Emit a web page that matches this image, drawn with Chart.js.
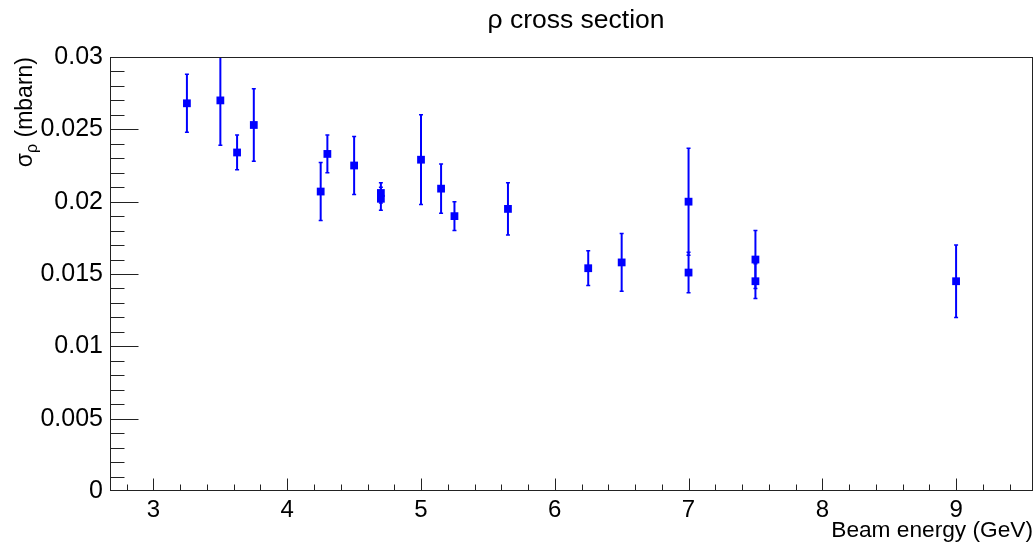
<!DOCTYPE html>
<html lang="en">

<head>
  <meta charset="UTF-8">
  <title>rho cross section</title>
  <script src="https://cdn.jsdelivr.net/npm/chart.js"></script>
  <style>
    body {
      margin: 0;
      background: #fff;
    }

    #chartContainer {
      width: 1035px;
      height: 544px;
    }
  </style>
</head>

<body>

  <div id="chartContainer">
    <canvas id="rhoXsec"></canvas>
  </div>

  <script>
    // beam energy (GeV), cross section (mbarn) and its error
    const energy = [3.25, 3.5, 3.625, 3.75, 4.25, 4.3, 4.5, 4.7, 4.7, 5.0, 5.15, 5.25, 5.65, 6.25, 6.5, 7.0, 7.0, 7.5, 7.5, 9.0];
    const sigma = [0.0268, 0.0270, 0.0234, 0.0253, 0.0207, 0.0233, 0.0225, 0.0206, 0.0202, 0.0229, 0.0209, 0.0190, 0.0195, 0.0154, 0.0158, 0.0200, 0.0151, 0.0160, 0.0145, 0.0145];
    const sigmaErr = [0.0020, 0.0031, 0.0012, 0.0025, 0.0020, 0.0013, 0.0020, 0.0007, 0.0008, 0.0031, 0.0017, 0.0010, 0.0018, 0.0012, 0.0020, 0.0037, 0.0014, 0.0020, 0.0012, 0.0025];

    const xTicks = [3, 4, 5, 6, 7, 8, 9];
    const xTickLabels = ['3', '4', '5', '6', '7', '8', '9'];
    const yTicks = [0, 0.005, 0.01, 0.015, 0.02, 0.025, 0.03];
    const yTickLabels = ['0', '0.005', '0.01', '0.015', '0.02', '0.025', '0.03'];

    const blue = '#0000ff';
    const font = "'Liberation Sans', Arial, Helvetica, sans-serif";

    // ROOT-like frame: inner ticks, error bars, titles
    const rootFrame = {
      id: 'rootFrame',
      beforeDatasetsDraw(chart) {
        const { ctx, chartArea: a, scales: { x, y } } = chart;
        ctx.save();
        ctx.beginPath();
        ctx.rect(a.left, a.top, a.right - a.left, a.bottom - a.top);
        ctx.clip();
        ctx.strokeStyle = blue;
        energy.forEach((e, i) => {
          const px = x.getPixelForValue(e);
          const top = y.getPixelForValue(sigma[i] + sigmaErr[i]);
          const bot = y.getPixelForValue(sigma[i] - sigmaErr[i]);
          ctx.lineWidth = 2;
          ctx.beginPath();
          ctx.moveTo(px, top);
          ctx.lineTo(px, bot);
          ctx.stroke();
          ctx.lineWidth = 1.5;
          ctx.beginPath();
          ctx.moveTo(px - 2, top);
          ctx.lineTo(px + 2, top);
          ctx.moveTo(px - 2, bot);
          ctx.lineTo(px + 2, bot);
          ctx.stroke();
        });
        ctx.restore();
      },
      afterDraw(chart) {
        const { ctx, chartArea: a, scales: { x, y } } = chart;
        const L = Math.round(a.left) + 0.5, R = Math.round(a.right) - 0.5;
        const T = Math.round(a.top) + 0.5, B = Math.round(a.bottom) - 0.5;
        ctx.save();
        ctx.strokeStyle = '#222';
        ctx.lineWidth = 1;
        ctx.strokeRect(L, T, R - L, B - T);

        ctx.beginPath();
        // x ticks, every 0.2
        for (let i = 14; i * 0.2 < x.max; i++) {
          const px = Math.round(x.getPixelForValue(i * 0.2)) + 0.5;
          const len = i % 5 === 0 ? 12 : 6;
          ctx.moveTo(px, B);
          ctx.lineTo(px, B - len);
        }
        // y ticks, every 0.001
        for (let i = 1; i < 30; i++) {
          const py = Math.round(y.getPixelForValue(i * 0.001)) + 0.5;
          const len = i % 5 === 0 ? 28 : 14;
          ctx.moveTo(L, py);
          ctx.lineTo(L + len, py);
        }
        ctx.stroke();

        // main title
        ctx.fillStyle = '#000';
        ctx.font = '26.5px ' + font;
        ctx.textAlign = 'center';
        ctx.textBaseline = 'alphabetic';
        ctx.fillText('ρ cross section', 576, 28);

        // y title with subscript, end aligned with top of frame
        const parts = [['σ', 23, 0], ['ρ', 16, 5], [' (mbarn)', 23, 0]];
        let w = 0;
        parts.forEach(p => { ctx.font = p[1] + 'px ' + font; w += ctx.measureText(p[0]).width; });
        ctx.translate(32, a.top);
        ctx.rotate(-Math.PI / 2);
        ctx.textAlign = 'left';
        let cx = -w;
        parts.forEach(p => {
          ctx.font = p[1] + 'px ' + font;
          ctx.fillText(p[0], cx, p[2]);
          cx += ctx.measureText(p[0]).width;
        });
        ctx.restore();
      }
    };

    const ctx = document.getElementById('rhoXsec').getContext('2d');
    new Chart(ctx, {
      type: 'scatter',
      data: {
        datasets: [{
          label: 'sigma',
          data: energy.map((e, i) => ({ x: e, y: sigma[i] })),
          pointStyle: 'rect',
          pointRadius: 5.5,
          pointBorderWidth: 0,
          backgroundColor: blue,
          borderColor: blue
        }]
      },
      options: {
        responsive: true,
        maintainAspectRatio: false,
        animation: false,
        layout: { autoPadding: false, padding: { top: 57, right: 2, left: 0, bottom: 0 } },
        plugins: {
          legend: { display: false },
          tooltip: { enabled: false },
          title: { display: false }
        },
        scales: {
          x: {
            type: 'linear',
            min: 2.675,
            max: 9.575,
            afterBuildTicks: s => { s.ticks = xTicks.map(v => ({ value: v })); },
            afterFit: s => { s.height = 53; s.paddingLeft = 0; s.paddingRight = 0; },
            grid: { display: false, drawTicks: false },
            border: { display: false },
            ticks: {
              color: '#000',
              padding: 5,
              maxRotation: 0,
              font: { family: font, size: 24 },
              callback: (v, i) => xTickLabels[i]
            },
            title: {
              display: true,
              text: 'Beam energy (GeV)',
              align: 'end',
              color: '#000',
              padding: { top: 0, bottom: 0 },
              font: { family: font, size: 22.7 }
            }
          },
          y: {
            type: 'linear',
            min: 0,
            max: 0.03,
            afterBuildTicks: s => { s.ticks = yTicks.map(v => ({ value: v })); },
            afterFit: s => { s.width = 110; s.paddingTop = 0; s.paddingBottom = 0; },
            grid: { display: false, drawTicks: false },
            border: { display: false },
            ticks: {
              color: '#000',
              padding: 7,
              font: { family: font, size: 25 },
              callback: (v, i) => yTickLabels[i]
            }
          }
        }
      },
      plugins: [rootFrame]
    });
  </script>
</body>

</html>
